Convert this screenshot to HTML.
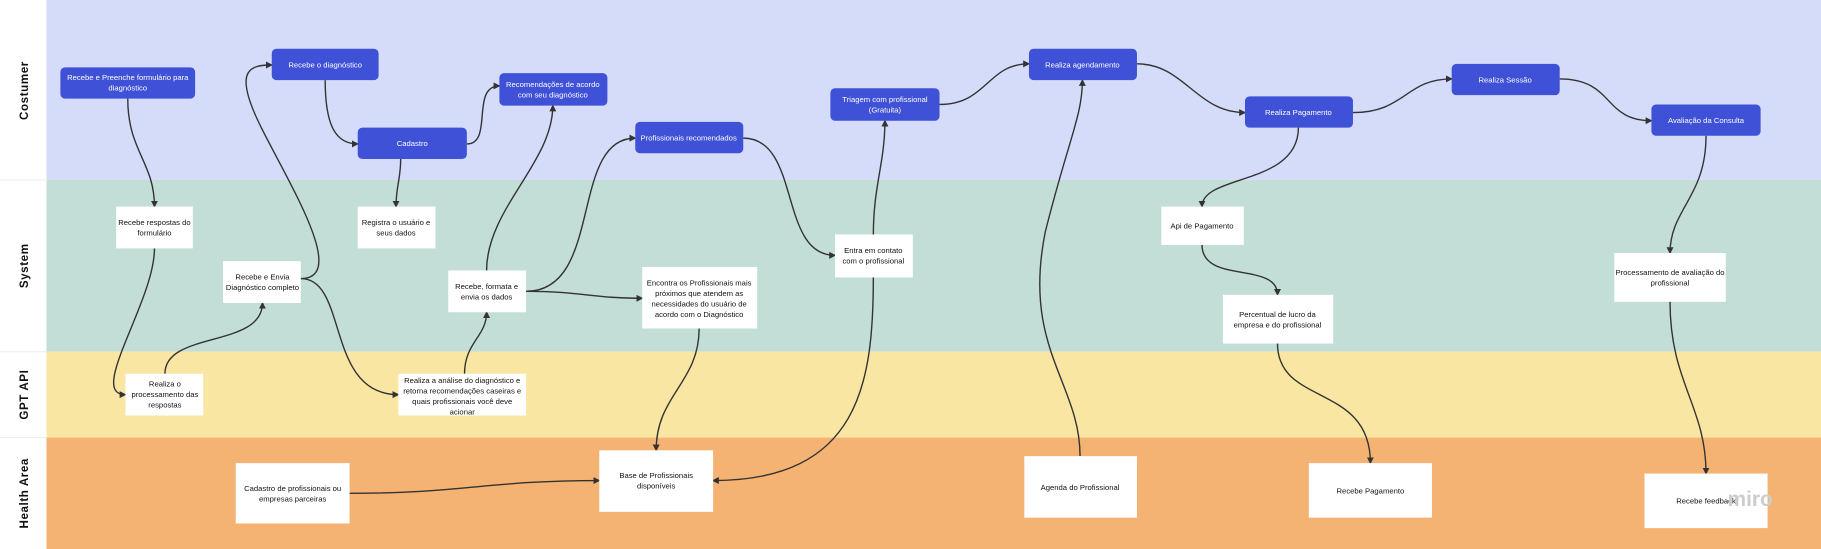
<!DOCTYPE html>
<html><head><meta charset="utf-8"><style>
html,body{margin:0;padding:0;background:#fff;}
svg{display:block}
text{font-family:"Liberation Sans",sans-serif;}
.b{fill:#3f51d6;}
.w{fill:#fff;}
.tb{fill:#fff;font-size:6.6px;text-anchor:middle;}
.tw{fill:#111;font-size:6.6px;text-anchor:middle;}
.ln{font-size:10px;font-weight:bold;fill:#111;text-anchor:middle;letter-spacing:0.5px}
path.e{fill:none;stroke:#333;stroke-width:1.2;marker-end:url(#a)}
</style></head><body>
<svg width="1821" height="549" viewBox="0 0 1568 473" preserveAspectRatio="none" xmlns="http://www.w3.org/2000/svg">
<defs><marker id="a" markerWidth="6" markerHeight="6" refX="5" refY="3" orient="auto" markerUnits="userSpaceOnUse"><path d="M0,0 L6,3 L0,6 z" fill="#333"/></marker></defs>
<rect x="0" y="0" width="1568" height="473" fill="#fff"/>
<rect x="40" y="0" width="1528" height="155" fill="#d5dcfa"/>
<rect x="40" y="155" width="1528" height="148" fill="#c3ded7"/>
<rect x="40" y="303" width="1528" height="74" fill="#f9e6a2"/>
<rect x="40" y="377" width="1528" height="96" fill="#f5b373"/>
<line x1="0" y1="155" x2="40" y2="155" stroke="#eee"/>
<line x1="0" y1="303" x2="40" y2="303" stroke="#eee"/>
<line x1="0" y1="377" x2="40" y2="377" stroke="#eee"/>
<text class="ln" transform="translate(24,78) rotate(-90)">Costumer</text>
<text class="ln" transform="translate(24,229) rotate(-90)">System</text>
<text class="ln" transform="translate(24,340) rotate(-90)">GPT API</text>
<text class="ln" transform="translate(24,425) rotate(-90)">Health Area</text>

<!-- edges -->
<path class="e" d="M110,85 C110,130 133,140 133,178"/>
<path class="e" d="M133,214 C133,260 75,340 108,340"/>
<path class="e" d="M142,322 C142,285 226,300 226,261"/>
<path class="e" d="M259,240 C300,240 250,160 225,110 C200,60 215,56 234,56"/>
<path class="e" d="M259,240 C300,240 280,340 343,340"/>
<path class="e" d="M280,69 C280,110 290,124 308,124"/>
<path class="e" d="M345,137 C345,155 341,160 341,178"/>
<path class="e" d="M402,124 C425,124 405,74 430,74"/>
<path class="e" d="M400,322 C400,295 419,290 419,269"/>
<path class="e" d="M419,233 C419,180 476,140 476,91"/>
<path class="e" d="M453,251 C520,251 490,119 547,119"/>
<path class="e" d="M453,251 C500,251 510,257 553,257"/>
<path class="e" d="M602,283 C602,330 565,340 565,388"/>
<path class="e" d="M640,119 C690,119 670,220 719,220"/>
<path class="e" d="M752,239 C752,330 740,414 614,414"/>
<path class="e" d="M752,202 C752,160 762,140 762,104"/>
<path class="e" d="M809,90 C850,90 850,55 886,55"/>
<path class="e" d="M930,393 C930,330 880,300 900,200 C920,120 932,100 932,69"/>
<path class="e" d="M979,55 C1020,55 1030,97 1072,97"/>
<path class="e" d="M1165,97 C1210,97 1210,68 1250,68"/>
<path class="e" d="M1343,68 C1390,68 1380,104 1422,104"/>
<path class="e" d="M1118,110 C1118,160 1035,150 1035,178"/>
<path class="e" d="M1035,211 C1035,245 1100,225 1100,254"/>
<path class="e" d="M1100,296 C1100,350 1180,330 1180,399"/>
<path class="e" d="M1469,117 C1469,170 1438,180 1438,218"/>
<path class="e" d="M1438,260 C1438,330 1469,350 1469,408"/>
<path class="e" d="M301,425 C400,425 420,414 516,414"/>

<!-- blue nodes -->
<rect class="b" x="52" y="58" width="116" height="27" rx="4"/>
<text class="tb" x="110" y="69">Recebe e Preenche formulário para</text><text class="tb" x="110" y="78">diagnóstico</text>
<rect class="b" x="234" y="42" width="92" height="27" rx="4"/>
<text class="tb" x="280" y="58">Recebe o diagnóstico</text>
<rect class="b" x="308" y="110" width="94" height="27" rx="4"/>
<text class="tb" x="355" y="126">Cadastro</text>
<rect class="b" x="430" y="63" width="93" height="28" rx="4"/>
<text class="tb" x="476" y="75">Recomendações de acordo</text><text class="tb" x="476" y="84">com seu diagnóstico</text>
<rect class="b" x="547" y="105" width="93" height="27" rx="4"/>
<text class="tb" x="593" y="121">Profissionais recomendados</text>
<rect class="b" x="715" y="76" width="94" height="28" rx="4"/>
<text class="tb" x="762" y="88">Triagem com profissional</text><text class="tb" x="762" y="97">(Gratuita)</text>
<rect class="b" x="886" y="42" width="93" height="27" rx="4"/>
<text class="tb" x="932" y="58">Realiza agendamento</text>
<rect class="b" x="1072" y="83" width="93" height="27" rx="4"/>
<text class="tb" x="1118" y="99">Realiza Pagamento</text>
<rect class="b" x="1250" y="55" width="93" height="27" rx="4"/>
<text class="tb" x="1296" y="71">Realiza Sessão</text>
<rect class="b" x="1422" y="90" width="94" height="27" rx="4"/>
<text class="tb" x="1469" y="106">Avaliação da Consulta</text>

<!-- white nodes -->
<rect class="w" x="100" y="178" width="66" height="36"/>
<text class="tw" x="133" y="194">Recebe respostas do</text><text class="tw" x="133" y="203">formulário</text>
<rect class="w" x="192" y="225" width="67" height="36"/>
<text class="tw" x="226" y="241">Recebe e Envia</text><text class="tw" x="226" y="250">Diagnóstico completo</text>
<rect class="w" x="308" y="178" width="67" height="36"/>
<text class="tw" x="341" y="194">Registra o usuário e</text><text class="tw" x="341" y="203">seus dados</text>
<rect class="w" x="386" y="233" width="67" height="36"/>
<text class="tw" x="419" y="249">Recebe, formata e</text><text class="tw" x="419" y="258">envia os dados</text>
<rect class="w" x="553" y="230" width="99" height="53"/>
<text class="tw" x="602" y="246">Encontra os Profissionais mais</text><text class="tw" x="602" y="255">próximos que atendem as</text><text class="tw" x="602" y="264">necessidades do usuário de</text><text class="tw" x="602" y="273">acordo com o Diagnóstico</text>
<rect class="w" x="719" y="202" width="67" height="37"/>
<text class="tw" x="752" y="218">Entra em contato</text><text class="tw" x="752" y="227">com o profissional</text>
<rect class="w" x="1000" y="178" width="71" height="33"/>
<text class="tw" x="1035" y="197">Api de Pagamento</text>
<rect class="w" x="1053" y="254" width="95" height="42"/>
<text class="tw" x="1100" y="273">Percentual de lucro da</text><text class="tw" x="1100" y="282">empresa e do profissional</text>
<rect class="w" x="1390" y="218" width="96" height="42"/>
<text class="tw" x="1438" y="237">Processamento de avaliação do</text><text class="tw" x="1438" y="246">profissional</text>
<rect class="w" x="108" y="322" width="67" height="36"/>
<text class="tw" x="142" y="333">Realiza o</text><text class="tw" x="142" y="342">processamento das</text><text class="tw" x="142" y="351">respostas</text>
<rect class="w" x="343" y="322" width="110" height="36"/>
<text class="tw" x="398" y="330">Realiza a análise do diagnóstico e</text><text class="tw" x="398" y="339">retorna recomendações caseiras e</text><text class="tw" x="398" y="348">quais profissionais você deve</text><text class="tw" x="398" y="357">acionar</text>
<rect class="w" x="203" y="399" width="98" height="52"/>
<text class="tw" x="252" y="423">Cadastro de profissionais ou</text><text class="tw" x="252" y="432">empresas parceiras</text>
<rect class="w" x="516" y="388" width="98" height="53"/>
<text class="tw" x="565" y="412">Base de Profissionais</text><text class="tw" x="565" y="421">disponíveis</text>
<rect class="w" x="882" y="393" width="97" height="53"/>
<text class="tw" x="930" y="422">Agenda do Profissional</text>
<rect class="w" x="1127" y="399" width="106" height="47"/>
<text class="tw" x="1180" y="425">Recebe Pagamento</text>
<rect class="w" x="1416" y="408" width="106" height="47"/>
<text class="tw" x="1469" y="434">Recebe feedback</text>
<text x="1507" y="436" font-size="18" fill="#ccc" text-anchor="middle" font-weight="bold">miro</text>
</svg>
</body></html>
